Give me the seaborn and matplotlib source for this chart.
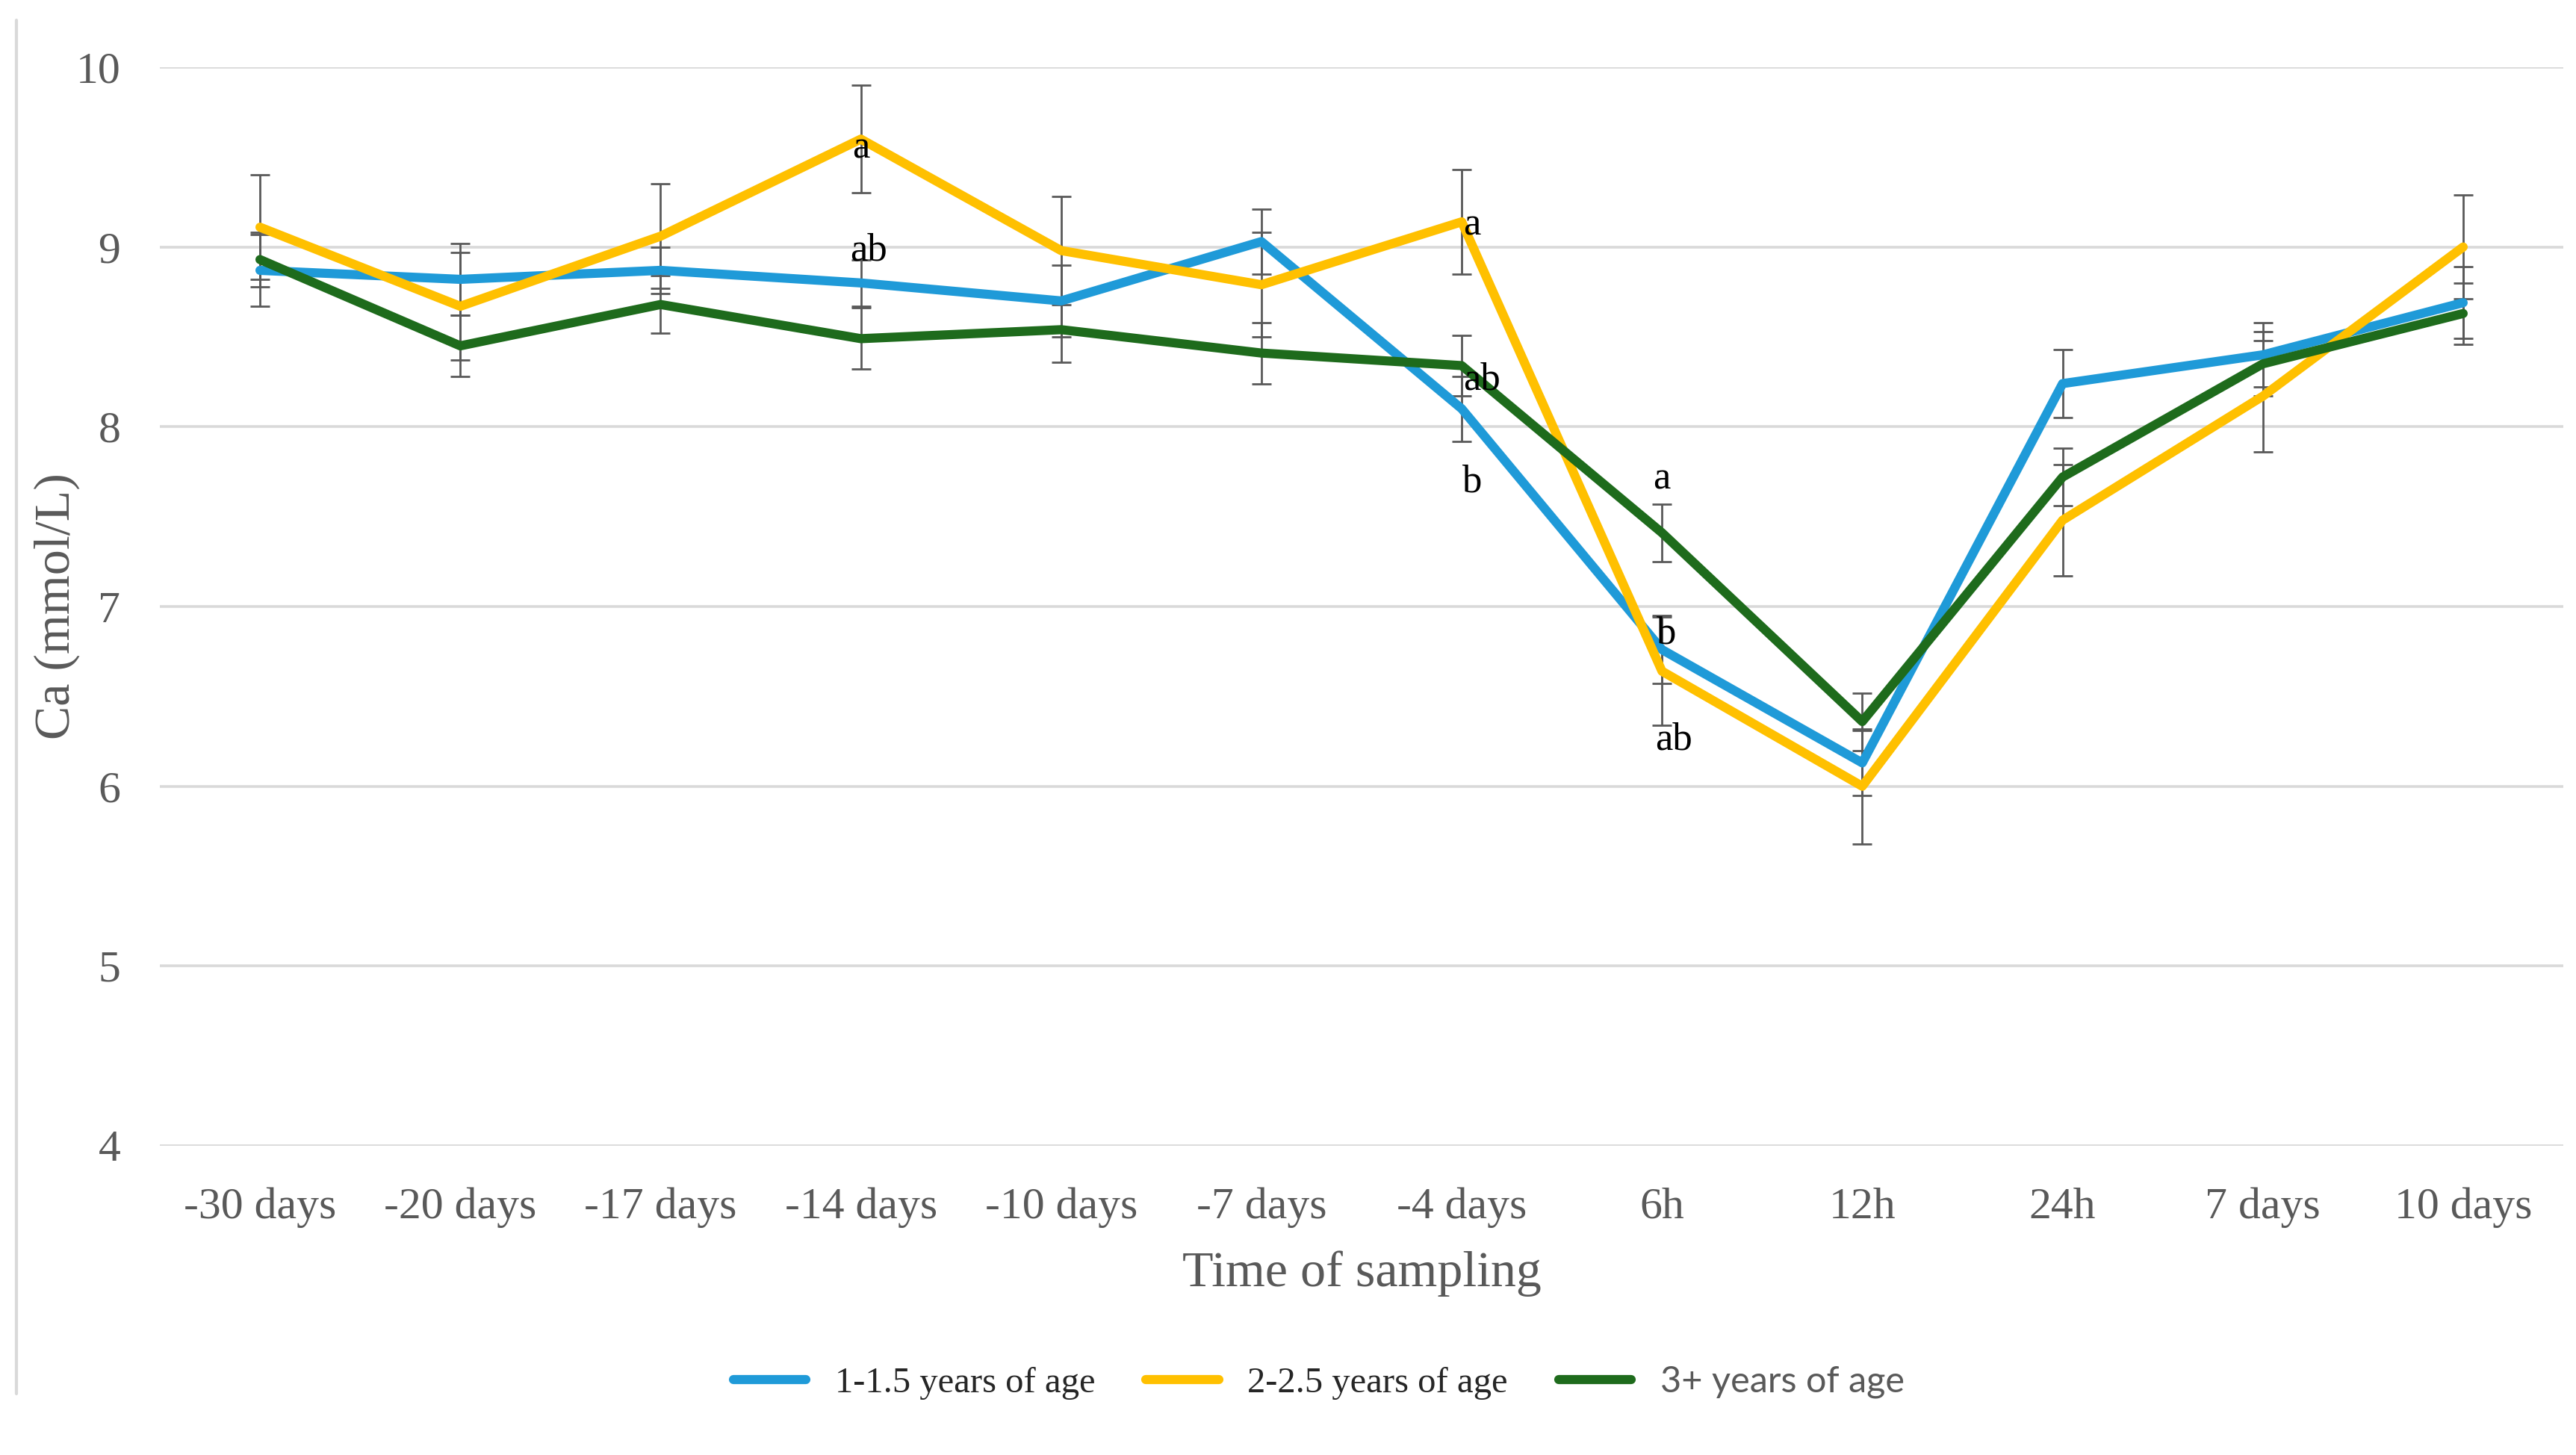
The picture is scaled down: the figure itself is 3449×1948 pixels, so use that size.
import numpy as np
import pandas as pd
import matplotlib
matplotlib.use("Agg")
import matplotlib.pyplot as plt
from matplotlib.lines import Line2D
import seaborn as sns

# ---------------- data ----------------
times = ["-30 days", "-20 days", "-17 days", "-14 days", "-10 days", "-7 days",
         "-4 days", "6h", "12h", "24h", "7 days", "10 days"]
series_names = ["1-1.5 years of age", "2-2.5 years of age", "3+ years of age"]
blue_vals = [8.87, 8.82, 8.87, 8.80, 8.70, 9.03, 8.10, 6.76, 6.13, 8.24, 8.40, 8.69]
yellow_vals = [9.11, 8.67, 9.06, 9.60, 8.98, 8.79, 9.14, 6.64, 6.00, 7.48, 8.17, 9.00]
green_vals = [8.93, 8.45, 8.68, 8.49, 8.54, 8.41, 8.34, 7.41, 6.36, 7.72, 8.35, 8.63]
blue_err = [0.20, 0.20, 0.13, 0.13, 0.20, 0.18, 0.18, 0.19, 0.18, 0.19, 0.18, 0.20]
yellow_err = [0.29, 0.30, 0.29, 0.30, 0.30, 0.29, 0.29, 0.30, 0.32, 0.31, 0.31, 0.29]
green_err = [0.15, 0.17, 0.16, 0.17, 0.18, 0.17, 0.17, 0.16, 0.16, 0.16, 0.18, 0.17]
colors = ["#1f9ad8", "#ffc000", "#1e6b1c"]

# significance letters: (label, category, offset in category units, y value)
ann_labels = ["a", "ab", "a", "ab", "b", "a", "b", "ab"]
ann_cats = ["-14 days", "-14 days", "-4 days", "-4 days", "-4 days", "6h", "6h", "6h"]
ann_dx = [0.0, 0.04, 0.05, 0.10, 0.05, 0.0, 0.02, 0.06]
ann_y = [9.55, 8.98, 9.12, 8.26, 7.69, 7.71, 6.85, 6.26]

yticks = [4, 5, 6, 7, 8, 9, 10]

# ---------------- style ----------------
sns.set_theme(style="white")
plt.rcParams["font.family"] = ["Liberation Serif", "DejaVu Serif"]

W, H, DPI = 3449, 1948, 200
fig = plt.figure(figsize=(W / DPI, H / DPI), dpi=DPI)
ax = fig.add_axes([214 / W, 1 - 1534 / H, (3432 - 214) / W, (1534 - 90) / H])

pos = np.arange(len(times))
vals = [blue_vals, yellow_vals, green_vals]
errs = [blue_err, yellow_err, green_err]

df = pd.DataFrame({
    "pos": np.concatenate([pos] * 3),
    "Ca": np.concatenate(vals),
    "group": np.repeat(series_names, len(times)),
})

# error bars (under the lines)
for v, e in zip(vals, errs):
    ax.errorbar(pos, v, yerr=e, fmt="none", ecolor="#595959", elinewidth=1.0,
                capsize=4.8, capthick=1.0, zorder=2)

sns.lineplot(data=df, x="pos", y="Ca", hue="group", hue_order=series_names,
             palette=colors, linewidth=4.4, ax=ax, legend=False,
             estimator=None, sort=False, zorder=3)

# letters
for lab, cat, dx, yv in zip(ann_labels, ann_cats, ann_dx, ann_y):
    ax.text(times.index(cat) + dx, yv, lab, ha="center", va="center",
            fontsize=19, color="black", zorder=5)

# axes formatting
ax.set_xlim(-0.5, len(times) - 0.5)
ax.set_ylim(4, 10)
ax.set_yticks(yticks)
ax.set_yticklabels([str(t) for t in yticks])
ax.set_xticks(pos)
ax.set_xticklabels(times)
ax.tick_params(axis="both", length=0, labelsize=21.5, labelcolor="#595959")
ax.tick_params(axis="y", pad=19)
ax.tick_params(axis="x", pad=20)
ax.grid(axis="y", color="#d9d9d9", linewidth=1.3)
ax.grid(axis="x", visible=False)
for s in ax.spines.values():
    s.set_visible(False)
ax.set_xlabel("Time of sampling", fontsize=24.5, color="#595959", labelpad=11)
ax.set_ylabel("Ca (mmol/L)", fontsize=24.5, color="#595959", labelpad=-2)

# legend
handles = [Line2D([0], [0], color=c, linewidth=4.4) for c in colors]
leg = fig.legend(handles, series_names, loc="center", bbox_to_anchor=(0.512, 0.05),
                 ncol=3, frameon=False, fontsize=17.5, handlelength=2.0,
                 handletextpad=0.8, columnspacing=1.4)
txts = leg.get_texts()
txts[2].set_fontfamily(["Lato", "DejaVu Sans"])
txts[2].set_color("#595959")

# thin border line on the left edge
fig.add_artist(Line2D([22 / W, 22 / W], [1 - 1866 / H, 1 - 27 / H],
                      transform=fig.transFigure, color="#d9d9d9", linewidth=1.5))

fig.savefig("out.png", dpi=DPI, facecolor="white")
